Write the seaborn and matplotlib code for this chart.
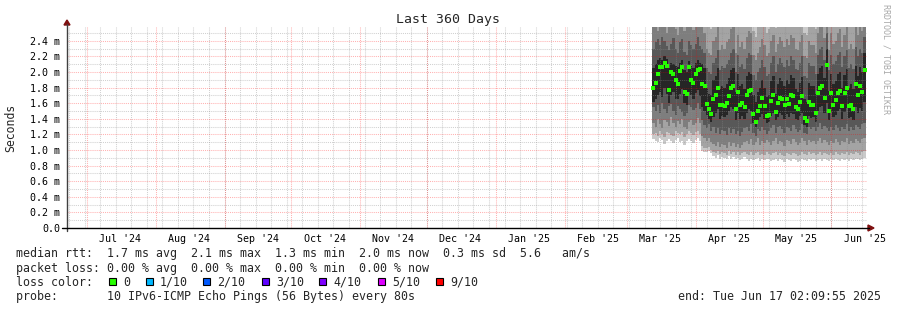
import numpy as np
import pandas as pd
import matplotlib
matplotlib.use("Agg")
import matplotlib.pyplot as plt
import matplotlib.dates as mdates
import seaborn as sns
from matplotlib.patches import Rectangle, Polygon
from matplotlib.lines import Line2D

# ---------------- data (milliseconds) ----------------
first_day = "2025-03-12 12:00"

median = [1.80, 1.86, 1.97, 2.07, 2.06, 2.12, 2.08, 1.77, 2.00, 1.97, 1.90, 1.84, 2.01, 2.07, 1.75, 1.72, 2.06, 1.90, 1.86, 1.98, 2.02, 2.04,
          1.85, 1.82, 1.59, 1.52, 1.46, 1.65, 1.71, 1.80, 1.58, 1.58, 1.56, 1.60, 1.69, 1.80, 1.82, 1.52, 1.75, 1.58, 1.60, 1.55,
          1.71, 1.76, 1.77, 1.46, 1.36, 1.50, 1.57, 1.67, 1.57, 1.43, 1.45, 1.63, 1.71, 1.49, 1.60, 1.67, 1.65, 1.58, 1.65, 1.59,
          1.71, 1.69, 1.55, 1.52, 1.61, 1.69, 1.41, 1.37, 1.62, 1.58, 1.58, 1.48, 1.73, 1.80, 1.82, 1.67, 2.09, 1.50, 1.73, 1.58,
          1.64, 1.73, 1.76, 1.56, 1.73, 1.80, 1.56, 1.58, 1.52, 1.84, 1.71, 1.82, 1.75, 2.03]

ping1 = [1.14, 1.12, 1.10, 1.15, 1.13, 1.08, 1.12, 1.14, 1.11, 1.09, 1.13, 1.15, 1.10, 1.12, 1.07, 1.11, 1.14, 1.12, 1.09, 1.13, 1.15, 1.11,
         0.99, 0.98, 0.97, 0.99, 0.96, 0.92, 0.90, 0.93, 0.89, 0.91, 0.90, 0.88, 0.92, 0.89, 0.91, 0.88, 0.90, 0.87, 0.89, 0.91,
         0.88, 0.86, 0.89, 0.87, 0.88, 0.90, 0.86, 0.88, 0.87, 0.89, 0.88, 0.86, 0.87, 0.89, 0.86, 0.88, 0.87, 0.85, 0.88, 0.87,
         0.86, 0.88, 0.87, 0.85, 0.86, 0.88, 0.87, 0.86, 0.89, 0.87, 0.88, 0.86, 0.87, 0.89, 0.86, 0.88, 0.87, 0.86, 0.88, 0.87,
         0.89, 0.87, 0.86, 0.88, 0.87, 0.89, 0.86, 0.88, 0.87, 0.89, 0.88, 0.87, 0.89, 0.90]

ping2 = [1.20, 1.22, 1.18, 1.24, 1.21, 1.17, 1.23, 1.22, 1.19, 1.18, 1.24, 1.22, 1.20, 1.23, 1.17, 1.21, 1.25, 1.22, 1.19, 1.23, 1.24, 1.20,
         1.05, 1.03, 1.02, 1.04, 1.00, 0.98, 0.96, 0.99, 0.95, 0.97, 0.96, 0.94, 0.99, 0.95, 0.98, 0.94, 0.97, 0.93, 0.96, 0.98,
         0.95, 0.93, 0.97, 0.94, 0.96, 0.98, 0.93, 0.95, 0.94, 0.97, 0.95, 0.93, 0.96, 0.98, 0.93, 0.96, 0.94, 0.92, 0.96, 0.95,
         0.93, 0.96, 0.95, 0.92, 0.94, 0.97, 0.95, 0.93, 0.97, 0.95, 0.96, 0.93, 0.95, 0.98, 0.94, 0.96, 0.95, 0.93, 0.96, 0.94,
         0.97, 0.95, 0.93, 0.96, 0.95, 0.98, 0.93, 0.96, 0.95, 0.97, 0.96, 0.94, 0.97, 0.99]

ping3 = [1.35, 1.30, 1.40, 1.33, 1.28, 1.38, 1.36, 1.31, 1.42, 1.34, 1.29, 1.37, 1.33, 1.40, 1.30, 1.27, 1.36, 1.39, 1.32, 1.35, 1.41, 1.34,
         1.18, 1.15, 1.12, 1.16, 1.10, 1.08, 1.05, 1.10, 1.04, 1.08, 1.06, 1.03, 1.10, 1.05, 1.09, 1.04, 1.08, 1.02, 1.06, 1.10,
         1.12, 1.08, 1.14, 1.06, 1.10, 1.15, 1.07, 1.11, 1.09, 1.13, 1.10, 1.06, 1.12, 1.16, 1.08, 1.12, 1.10, 1.05, 1.13, 1.11,
         1.08, 1.14, 1.10, 1.06, 1.09, 1.15, 1.12, 1.07, 1.13, 1.10, 1.12, 1.08, 1.11, 1.16, 1.09, 1.13, 1.10, 1.07, 1.12, 1.09,
         1.14, 1.10, 1.07, 1.12, 1.10, 1.15, 1.08, 1.11, 1.09, 1.14, 1.12, 1.09, 1.14, 1.16]

ping4 = [1.55, 1.50, 1.58, 1.48, 1.60, 1.52, 1.47, 1.56, 1.59, 1.50, 1.45, 1.57, 1.53, 1.49, 1.44, 1.48, 1.58, 1.55, 1.51, 1.54, 1.60, 1.52,
         1.38, 1.32, 1.28, 1.33, 1.25, 1.30, 1.22, 1.28, 1.20, 1.26, 1.24, 1.19, 1.28, 1.22, 1.27, 1.20, 1.25, 1.18, 1.23, 1.28,
         1.30, 1.25, 1.33, 1.22, 1.18, 1.27, 1.24, 1.30, 1.26, 1.21, 1.24, 1.28, 1.32, 1.22, 1.29, 1.31, 1.27, 1.22, 1.30, 1.28,
         1.25, 1.32, 1.27, 1.23, 1.26, 1.33, 1.22, 1.20, 1.30, 1.27, 1.29, 1.24, 1.30, 1.34, 1.27, 1.31, 1.28, 1.24, 1.30, 1.26,
         1.32, 1.28, 1.24, 1.30, 1.27, 1.33, 1.25, 1.29, 1.26, 1.32, 1.30, 1.27, 1.33, 1.35]

ping5 = [1.62, 1.66, 1.70, 1.75, 1.68, 1.80, 1.72, 1.60, 1.70, 1.74, 1.66, 1.65, 1.72, 1.78, 1.60, 1.58, 1.74, 1.70, 1.65, 1.73, 1.77, 1.69,
         1.55, 1.50, 1.45, 1.40, 1.36, 1.42, 1.48, 1.52, 1.40, 1.44, 1.42, 1.45, 1.50, 1.55, 1.52, 1.38, 1.48, 1.40, 1.44, 1.40,
         1.48, 1.52, 1.50, 1.35, 1.30, 1.38, 1.42, 1.46, 1.40, 1.34, 1.36, 1.44, 1.48, 1.38, 1.42, 1.47, 1.45, 1.40, 1.46, 1.42,
         1.48, 1.46, 1.40, 1.38, 1.43, 1.47, 1.32, 1.30, 1.44, 1.41, 1.42, 1.36, 1.50, 1.55, 1.56, 1.47, 1.60, 1.38, 1.49, 1.42,
         1.45, 1.50, 1.52, 1.40, 1.49, 1.54, 1.41, 1.42, 1.38, 1.55, 1.48, 1.54, 1.50, 1.62]

ping6 = [2.05, 2.10, 2.15, 2.18, 2.16, 2.20, 2.17, 2.05, 2.12, 2.10, 2.08, 2.06, 2.12, 2.15, 2.02, 2.00, 2.14, 2.08, 2.05, 2.12, 2.15, 2.12,
         2.10, 2.05, 1.80, 1.72, 1.70, 1.90, 1.95, 2.05, 1.78, 1.82, 1.80, 1.85, 1.92, 2.02, 2.05, 1.75, 1.98, 1.82, 1.85, 1.78,
         1.95, 2.00, 1.98, 1.70, 1.62, 1.75, 1.80, 1.90, 1.80, 1.68, 1.70, 1.88, 1.95, 1.72, 1.85, 1.92, 1.88, 1.82, 1.90, 1.84,
         1.96, 1.92, 1.78, 1.75, 1.86, 1.94, 1.66, 1.62, 1.86, 1.82, 1.82, 1.72, 1.98, 2.05, 2.08, 1.92, 2.30, 1.76, 1.98, 1.84,
         1.88, 1.98, 2.00, 1.80, 1.96, 2.04, 1.80, 1.84, 1.78, 2.08, 1.95, 2.06, 2.00, 2.25]

ping7 = [2.30, 2.38, 2.42, 2.35, 2.45, 2.40, 2.33, 2.28, 2.36, 2.44, 2.30, 2.25, 2.38, 2.42, 2.26, 2.22, 2.40, 2.35, 2.30, 2.36, 2.45, 2.33,
         2.30, 2.25, 2.05, 2.00, 1.98, 2.12, 2.18, 2.28, 2.02, 2.08, 2.05, 2.10, 2.15, 2.25, 2.30, 2.00, 2.22, 2.06, 2.10, 2.04,
         2.18, 2.24, 2.22, 1.96, 1.90, 2.00, 2.05, 2.15, 2.06, 1.95, 1.98, 2.12, 2.20, 2.00, 2.10, 2.18, 2.12, 2.06, 2.15, 2.08,
         2.20, 2.16, 2.04, 2.02, 2.12, 2.20, 1.95, 1.92, 2.12, 2.08, 2.08, 1.98, 2.22, 2.30, 2.32, 2.16, 2.50, 2.02, 2.22, 2.10,
         2.14, 2.22, 2.26, 2.06, 2.20, 2.28, 2.05, 2.10, 2.04, 2.32, 2.20, 2.30, 2.25, 2.45]

ping8 = [2.60, 2.70, 2.52, 2.65, 2.75, 2.62, 2.50, 2.68, 2.60, 2.72, 2.55, 2.48, 2.66, 2.70, 2.52, 2.58, 2.75, 2.62, 2.54, 2.68, 2.70, 2.60,
         2.58, 2.50, 2.30, 2.25, 2.22, 2.40, 2.45, 2.60, 2.28, 2.35, 2.30, 2.38, 2.42, 2.55, 2.60, 2.25, 2.48, 2.32, 2.38, 2.30,
         2.45, 2.52, 2.50, 2.22, 2.15, 2.25, 2.32, 2.42, 2.34, 2.20, 2.24, 2.40, 2.48, 2.26, 2.36, 2.45, 2.40, 2.32, 2.42, 2.35,
         2.48, 2.44, 2.30, 2.28, 2.38, 2.48, 2.20, 2.18, 2.40, 2.34, 2.35, 2.25, 2.50, 2.60, 2.62, 2.44, 2.75, 2.28, 2.50, 2.36,
         2.40, 2.50, 2.55, 2.32, 2.48, 2.58, 2.30, 2.36, 2.30, 2.62, 2.48, 2.58, 2.52, 2.70]

ping9 = [3.00, 3.10, 2.90, 3.00, 3.20, 3.00, 2.80, 3.10, 3.00, 3.10, 2.90, 2.80, 3.00, 3.10, 2.90, 2.90, 3.20, 3.00, 2.90, 3.00, 3.10, 3.00,
         2.90, 2.85, 2.70, 2.62, 2.55, 2.80, 2.85, 2.95, 2.60, 2.70, 2.65, 2.75, 2.80, 2.90, 2.95, 2.58, 2.85, 2.66, 2.72, 2.60,
         2.80, 2.90, 2.88, 2.52, 2.45, 2.58, 2.66, 2.78, 2.68, 2.50, 2.55, 2.74, 2.84, 2.56, 2.70, 2.80, 2.74, 2.64, 2.76, 2.68,
         2.84, 2.78, 2.62, 2.58, 2.72, 2.84, 2.50, 2.48, 2.74, 2.66, 2.68, 2.55, 2.86, 2.95, 2.98, 2.78, 3.10, 2.60, 2.86, 2.70,
         2.74, 2.86, 2.90, 2.64, 2.84, 2.94, 2.62, 2.70, 2.62, 2.98, 2.84, 2.94, 2.88, 3.05]

y_ticks = [0.0, 0.2, 0.4, 0.6, 0.8, 1.0, 1.2, 1.4, 1.6, 1.8, 2.0, 2.2, 2.4]
y_labels = ["0.0", "0.2 m", "0.4 m", "0.6 m", "0.8 m", "1.0 m", "1.2 m", "1.4 m",
            "1.6 m", "1.8 m", "2.0 m", "2.2 m", "2.4 m"]
month_labels = ["Jul '24", "Aug '24", "Sep '24", "Oct '24", "Nov '24", "Dec '24",
                "Jan '25", "Feb '25", "Mar '25", "Apr '25", "May '25", "Jun '25"]
label_dates = ["2024-07-16", "2024-08-16", "2024-09-16", "2024-10-16", "2024-11-16", "2024-12-16",
               "2025-01-16", "2025-02-16", "2025-03-16", "2025-04-16", "2025-05-16", "2025-06-16"]

loss_labels = ["0", "1/10", "2/10", "3/10", "4/10", "5/10", "9/10"]
loss_colors = ["#26ff00", "#00b8ff", "#0059ff", "#5e00ff", "#7e00ff", "#dd00ff", "#ff0000"]

t_start = pd.Timestamp("2024-06-22 02:09:55")
t_end = pd.Timestamp("2025-06-17 02:09:55")

# ---------------- figure ----------------
sns.set_style("white")
plt.rcParams["font.family"] = ["DejaVu Sans Mono"]

W, H = 897, 310
fig = plt.figure(figsize=(W / 100, H / 100), dpi=100)
fig.patch.set_facecolor("white")


def fx(x):
    return x / W


def fy(y):
    return 1 - y / H


ax_l, ax_r, ax_t, ax_b = 67, 867, 27, 228
ax = fig.add_axes([fx(ax_l), fy(ax_b), (ax_r - ax_l) / W, (ax_b - ax_t) / H])
ax.set_facecolor("white")
YMAX = (ax_b - ax_t) / 78.0
ax.set_ylim(0, YMAX)
ax.set_xlim(mdates.date2num(t_start), mdates.date2num(t_end))

n = len(median)
days = pd.date_range(first_day, periods=n, freq="D")
xd = mdates.date2num(days.to_pydatetime())

med = np.array(median)
p = [np.array(a) for a in (ping1, ping2, ping3, ping4, ping5, ping6, ping7, ping8, ping9)]

# smoke bands (outermost first)
ax.bar(xd, YMAX - p[0], bottom=p[0], width=1.0, align="edge", color="#cacaca", linewidth=0, zorder=2)
ax.bar(xd, p[8] - p[1], bottom=p[1], width=1.0, align="edge", color="#a4a4a4", linewidth=0, zorder=2)
ax.bar(xd, p[7] - p[2], bottom=p[2], width=1.0, align="edge", color="#7e7e7e", linewidth=0, zorder=2)
ax.bar(xd, p[6] - p[3], bottom=p[3], width=1.0, align="edge", color="#585858", linewidth=0, zorder=2)
ax.bar(xd, p[5] - p[4], bottom=p[4], width=1.0, align="edge", color="#262626", linewidth=0, zorder=2)

# grid on top (rrdtool style)
minor_c = (0.55, 0.55, 0.55, 0.4)
major_c = (1.0, 0.0, 0.0, 0.3)
dot = (0, (1, 1))
for v in np.arange(0.1, YMAX, 0.2):
    ax.axhline(v, color=minor_c, lw=0.75, ls=dot, zorder=3)
for d in pd.date_range(t_start, t_end, freq="W-SUN").normalize():
    ax.axvline(mdates.date2num(d), color=minor_c, lw=0.75, ls=dot, zorder=3)
for v in y_ticks[1:]:
    ax.axhline(v, color=major_c, lw=0.75, ls=dot, zorder=3)
for d in pd.date_range(t_start, t_end, freq="MS"):
    ax.axvline(mdates.date2num(d), color=major_c, lw=0.75, ls=dot, zorder=3)

# median points
sns.scatterplot(x=xd + 0.5, y=med, marker="s", s=7, color="#26ff00", linewidth=0,
                ax=ax, zorder=5, legend=False)

for s in ax.spines.values():
    s.set_visible(False)
ax.grid(False)

ax.set_yticks(y_ticks)
ax.set_yticklabels(y_labels, fontsize=7.2, color="black")
ax.set_xticks(mdates.date2num(pd.to_datetime(label_dates).to_pydatetime()))
ax.set_xticklabels(month_labels, fontsize=7.2, color="black")
ax.tick_params(axis="y", length=0, pad=5)
ax.tick_params(axis="x", length=0, pad=4)
ax.set_xlabel("")
ax.set_ylabel("")

# axes lines with arrows
fig.add_artist(Line2D([fx(67), fx(67)], [fy(231), fy(24)], color="#404040", lw=1.0))
fig.add_artist(Line2D([fx(62), fx(869)], [fy(228), fy(228)], color="black", lw=1.0))
fig.add_artist(Polygon([[fx(64), fy(25)], [fx(70), fy(25)], [fx(67), fy(20)]],
                       closed=True, color="#7f1010", transform=fig.transFigure))
fig.add_artist(Polygon([[fx(868), fy(225)], [fx(868), fy(231)], [fx(874), fy(228)]],
                       closed=True, color="#7f1010", transform=fig.transFigure))

# titles and labels
fig.text(fx(448), fy(23.5), "Last 360 Days", ha="center", va="baseline", fontsize=9.5)
fig.text(fx(11), fy(127.5), "Seconds", ha="center", va="center", rotation=90, fontsize=8.3)
fig.text(fx(886), fy(4), "RRDTOOL / TOBI OETIKER", ha="center", va="top", rotation=270,
         fontsize=6, color="#a8a8a8")

fs = 8.4
fig.text(fx(16), fy(257.5), "median rtt:  1.7 ms avg  2.1 ms max  1.3 ms min  2.0 ms now  0.3 ms sd  5.6   am/s",
         ha="left", va="baseline", fontsize=fs)
fig.text(fx(16), fy(271.7), "packet loss: 0.00 % avg  0.00 % max  0.00 % min  0.00 % now",
         ha="left", va="baseline", fontsize=fs)
fig.text(fx(16), fy(285.7), "loss color:", ha="left", va="baseline", fontsize=fs)
box_x = [109, 146, 203, 262, 319, 378, 436]
for bx, lab, col in zip(box_x, loss_labels, loss_colors):
    fig.add_artist(Rectangle((fx(bx), fy(285)), 7 / W, 7 / H, facecolor=col, edgecolor="black",
                             lw=0.8, transform=fig.transFigure))
    fig.text(fx(bx + 14), fy(285.7), lab, ha="left", va="baseline", fontsize=fs)
fig.text(fx(16), fy(300), "probe:       10 IPv6-ICMP Echo Pings (56 Bytes) every 80s",
         ha="left", va="baseline", fontsize=fs)
fig.text(fx(881), fy(300), "end: Tue Jun 17 02:09:55 2025", ha="right", va="baseline", fontsize=fs)

fig.savefig("out.png", dpi=100, facecolor="white")
